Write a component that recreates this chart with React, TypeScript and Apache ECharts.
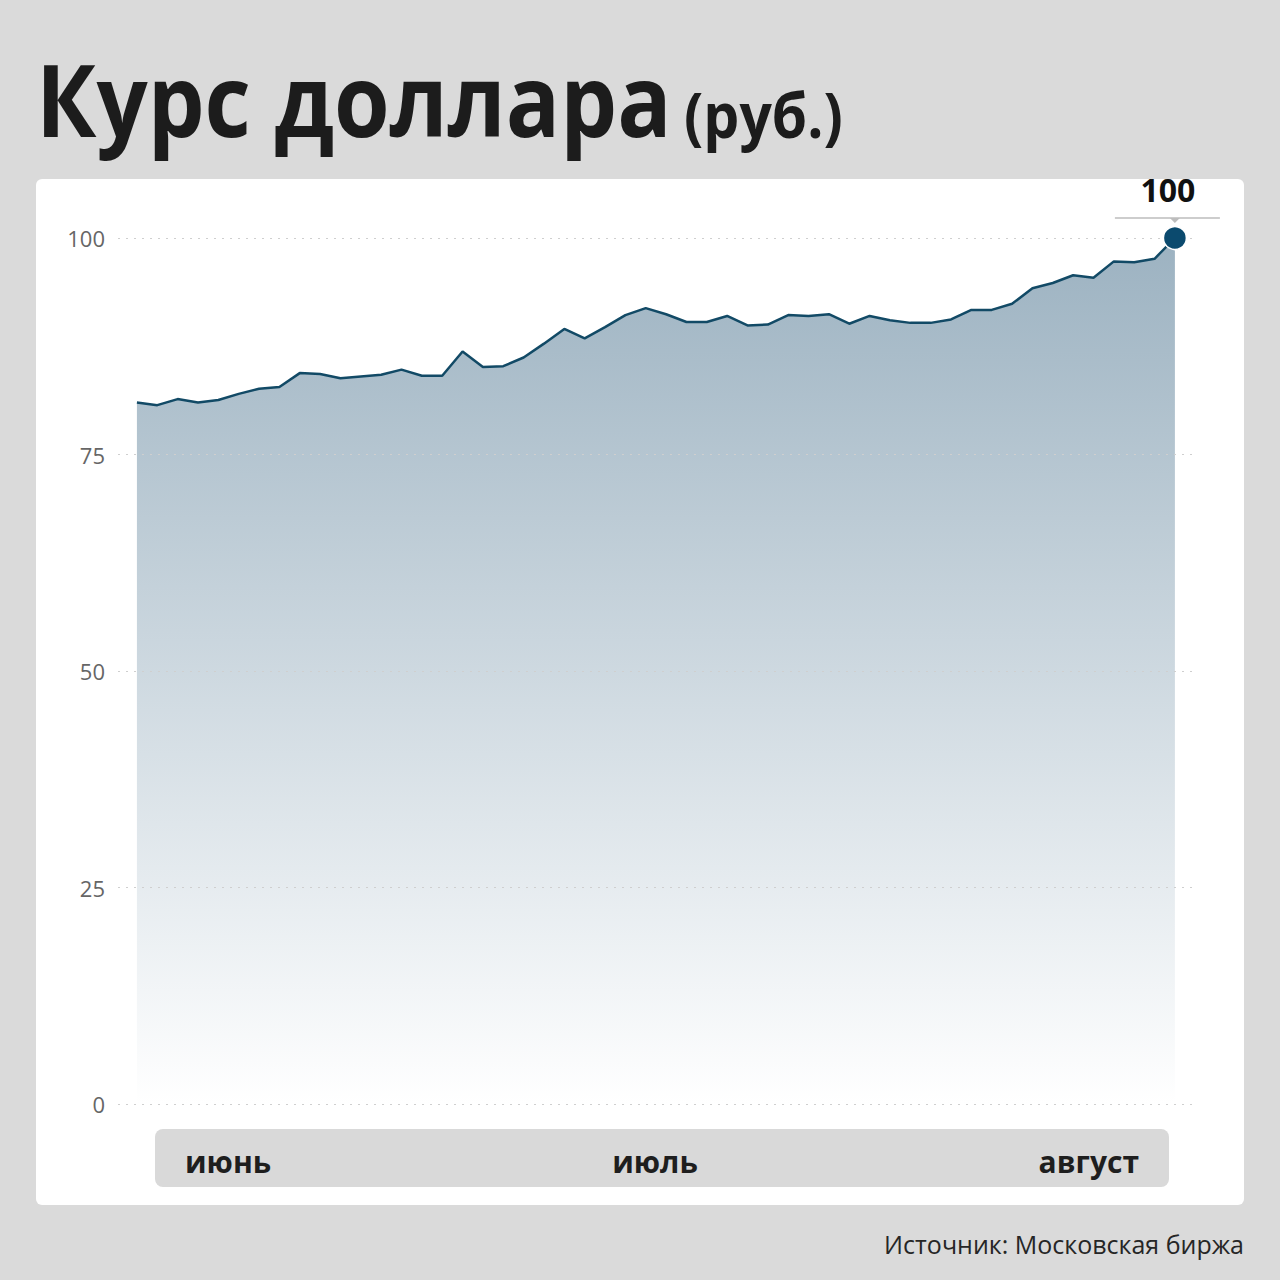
import React, { useEffect, useRef } from "react";
import * as echarts from "echarts";

const rates = [
  81.0, 80.7, 81.4, 81.0, 81.3, 82.0, 82.6, 82.8, 84.4, 84.3, 83.8, 84.0, 84.2,
  84.8, 84.1, 84.1, 86.9, 85.1, 85.2, 86.2, 87.8, 89.5, 88.4, 89.7, 91.1, 91.9,
  91.2, 90.3, 90.3, 91.0, 89.9, 90.0, 91.1, 91.0, 91.2, 90.1, 91.0, 90.5, 90.2,
  90.2, 90.6, 91.7, 91.7, 92.4, 94.2, 94.8, 95.7, 95.4, 97.3, 97.2, 97.6, 100,
];
const yTicks = [0, 25, 50, 75, 100];
const monthLabels = ["июнь", "июль", "август"];
const titleMain = "Курс доллара";
const titleUnit = "(руб.)";
const sourceText = "Источник: Московская биржа";

export default function App() {
  const ref = useRef<HTMLDivElement>(null);
  useEffect(() => {
    const el = ref.current!;
    const chart = echarts.init(el, null, { renderer: "svg" });
    const font = "'Open Sans', 'Noto Sans', sans-serif";
    const points = rates.map((v, i) => [i, v]);
    const lastIdx = rates.length - 1;
    const lastVal = rates[lastIdx];

    chart.setOption({
      animation: false,
      backgroundColor: "#dadada",
      grid: { left: 118, right: 88, top: 238, bottom: 176 },
      xAxis: {
        type: "value",
        min: -0.93,
        max: lastIdx + 0.84,
        show: false,
      },
      yAxis: {
        type: "value",
        min: yTicks[0],
        max: yTicks[yTicks.length - 1],
        interval: yTicks[1] - yTicks[0],
        z: 4,
        axisLine: { show: false },
        axisTick: { show: false },
        axisLabel: { color: "#666", fontSize: 22, margin: 13, fontFamily: font },
        splitLine: { lineStyle: { color: "#cfcfcf", type: [2, 6], width: 1 } },
      },
      series: [
        {
          type: "line",
          data: points,
          symbol: "none",
          lineStyle: { color: "#124a66", width: 2.5 },
          areaStyle: {
            color: new echarts.graphic.LinearGradient(0, 0, 0, 1, [
              { offset: 0, color: "#9cb2c1" },
              { offset: 1, color: "#ffffff" },
            ]),
            opacity: 1,
          },
          z: 3,
        },
        {
          type: "scatter",
          data: [[lastIdx, lastVal]],
          symbolSize: 23,
          itemStyle: { color: "#0b4a6e", borderColor: "#ffffff", borderWidth: 1.5, opacity: 1 },
          label: {
            show: true,
            position: "top",
            distance: 20,
            offset: [-7, 0],
            formatter: () => String(lastVal),
            fontSize: 32,
            fontWeight: "bold",
            color: "#111111",
            fontFamily: font,
          },
          z: 5,
        },
      ],
    });

    const [px, py] = chart.convertToPixel({ gridIndex: 0 }, [lastIdx, lastVal]) as number[];

    chart.setOption({
      graphic: [
        {
          type: "rect",
          z: -10,
          shape: { x: 36, y: 179, width: 1208, height: 1026, r: 6 },
          style: { fill: "#ffffff" },
        },
        {
          type: "text",
          x: 36,
          y: 98,
          scaleX: 0.9,
          style: {
            text: titleMain,
            font: `bold 100px ${font}`,
            fill: "#1c1c1c",
            verticalAlign: "middle",
          },
        },
        {
          type: "text",
          x: 684,
          y: 114,
          scaleX: 0.92,
          style: {
            text: titleUnit,
            font: `bold 62px ${font}`,
            fill: "#1c1c1c",
            verticalAlign: "middle",
          },
        },
        {
          type: "line",
          shape: { x1: px - 60, y1: py - 20, x2: px + 45, y2: py - 20 },
          style: { stroke: "#bdbdbd", lineWidth: 1.5 },
          z: 6,
        },
        {
          type: "polygon",
          shape: { points: [[px - 5, py - 20], [px + 5, py - 20], [px, py - 15]] },
          style: { fill: "#bdbdbd" },
          z: 6,
        },
        {
          type: "rect",
          shape: { x: 155, y: 1129, width: 1014, height: 58, r: 8 },
          style: { fill: "#d9d9d9" },
        },
        {
          type: "text",
          x: 185,
          y: 1161,
          style: {
            text: monthLabels[0],
            font: `bold 30px ${font}`,
            fill: "#1e1e1e",
            verticalAlign: "middle",
            align: "left",
          },
        },
        {
          type: "text",
          x: 655,
          y: 1161,
          style: {
            text: monthLabels[1],
            font: `bold 30px ${font}`,
            fill: "#1e1e1e",
            verticalAlign: "middle",
            align: "center",
          },
        },
        {
          type: "text",
          x: 1139,
          y: 1161,
          style: {
            text: monthLabels[2],
            font: `bold 30px ${font}`,
            fill: "#1e1e1e",
            verticalAlign: "middle",
            align: "right",
          },
        },
        {
          type: "text",
          x: 1244,
          y: 1244,
          style: {
            text: sourceText,
            font: `25px ${font}`,
            fill: "#262626",
            verticalAlign: "middle",
            align: "right",
          },
        },
      ],
    });

    return () => chart.dispose();
  }, []);
  return (
    <div
      ref={ref}
      style={{ position: "absolute", left: 0, top: 0, width: 1280, height: 1280 }}
    />
  );
}
